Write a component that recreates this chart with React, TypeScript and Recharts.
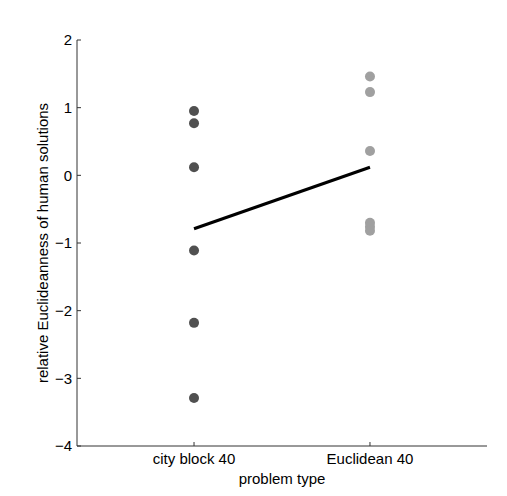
import { ComposedChart, Scatter, Line, XAxis, YAxis, Label } from 'recharts'

const categories = ['city block 40', 'Euclidean 40']
const cityBlock = [0.95, 0.77, 0.12, -1.11, -2.18, -3.29]
const euclidean = [1.46, 1.23, 0.36, -0.7, -0.76, -0.82]
const means = [-0.79, 0.12]
const yTicks = [-4, -3, -2, -1, 0, 1, 2]

const FONT = '"Liberation Sans", Arial, sans-serif'

const cityData = cityBlock.map((v) => ({ x: 1, y: v }))
const euclidData = euclidean.map((v) => ({ x: 2, y: v }))
const meanData = means.map((v, i) => ({ x: i + 1, y: v }))

const dot = (color: string) => (props: any) => (
  <circle cx={props.cx} cy={props.cy} r={5} fill={color} />
)

const fmtY = (v: number) => (v < 0 ? `\u2212${Math.abs(v)}` : `${v}`)

export default function App() {
  return (
    <div style={{ position: 'absolute', left: 0, top: 0, background: '#fff' }}>
      <ComposedChart
        width={507}
        height={496}
        margin={{ top: 40, right: 20, bottom: 0, left: 0 }}
        style={{ fontFamily: FONT }}
      >
        <XAxis
          type="number"
          dataKey="x"
          domain={[0.335, 2.665]}
          ticks={[1, 2]}
          tickFormatter={(v: number) => categories[v - 1]}
          height={50}
          tickSize={-4}
          tickMargin={11}
          axisLine={{ stroke: '#333' }}
          tickLine={{ stroke: '#333' }}
          tick={{ fill: '#000', fontSize: 15 }}
          allowDuplicatedCategory={false}
        >
          <Label value="problem type" position="insideBottom" offset={12} fill="#000" fontSize={15} />
        </XAxis>
        <YAxis
          type="number"
          dataKey="y"
          domain={[-4, 2]}
          ticks={yTicks}
          tickFormatter={fmtY}
          width={77}
          tickSize={-4}
          tickMargin={9}
          axisLine={{ stroke: '#333' }}
          tickLine={{ stroke: '#333' }}
          tick={{ fill: '#000', fontSize: 15 }}
        >
          <Label
            value="relative Euclideanness of human solutions"
            angle={-90}
            position="center"
            dx={4}
            fill="#000"
            fontSize={15}
          />
        </YAxis>
        <Scatter data={cityData} fill="#505050" shape={dot('#505050')} isAnimationActive={false} />
        <Scatter data={euclidData} fill="#a0a0a0" shape={dot('#a0a0a0')} isAnimationActive={false} />
        <Line
          data={meanData}
          dataKey="y"
          stroke="#000"
          strokeWidth={3}
          dot={false}
          activeDot={false}
          isAnimationActive={false}
        />
      </ComposedChart>
    </div>
  )
}
